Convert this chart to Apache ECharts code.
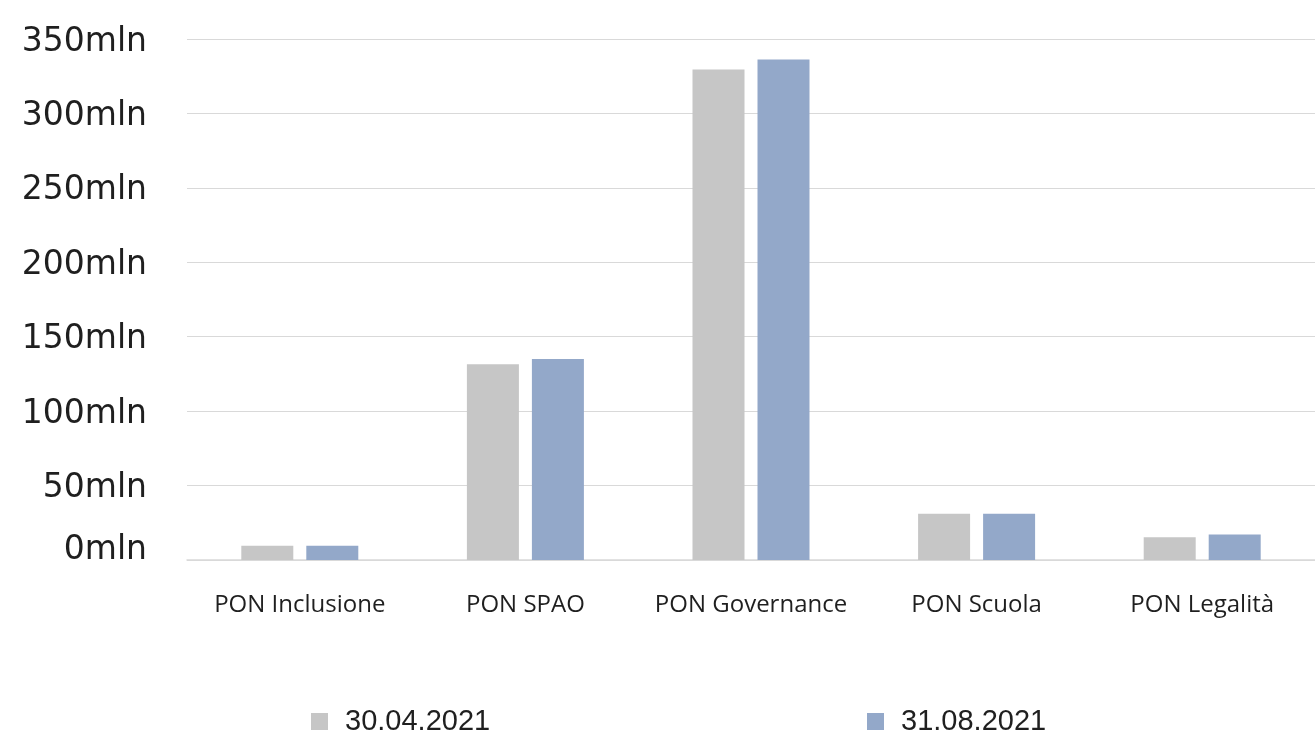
<!DOCTYPE html>
<html>
<head>
<meta charset="utf-8">
<script src="https://cdn.jsdelivr.net/npm/echarts@6/dist/echarts.min.js"></script>
<style>html,body{margin:0;padding:0;background:#fff}#c{width:1315px;height:732px}</style>
</head>
<body>
<div id="c"></div>
<script>
const categories = ['PON Inclusione', 'PON SPAO', 'PON Governance', 'PON Scuola', 'PON Legalità'];
const seriesNames = ['30.04.2021', '31.08.2021'];
const values2021Apr = [9.5, 131.5, 329.5, 31, 15.2];
const values2021Aug = [9.5, 135, 336.3, 31, 17.2];
const yTicks = { min: 0, max: 350, interval: 50, suffix: 'mln' };

const legendText = { fontFamily: 'Liberation Sans, Arial, sans-serif', fontSize: 29, color: '#1f1f1f', padding: [0, 0, 0, 12] };
const yFont = { fontFamily: 'DejaVu Sans, sans-serif', fontSize: 33, color: '#1f1f1f' };

const chart = echarts.init(document.getElementById('c'), null, { renderer: 'canvas' });
chart.setOption({
  animation: false,
  backgroundColor: '#ffffff',
  grid: { left: 187, right: 0, top: 39, bottom: 172, containLabel: false },
  legend: [
    { data: [seriesNames[0]], left: 306, top: 702, icon: 'rect', itemWidth: 17, itemHeight: 17, textStyle: legendText },
    { data: [seriesNames[1]], left: 862, top: 702, icon: 'rect', itemWidth: 17, itemHeight: 17, textStyle: legendText }
  ],
  xAxis: {
    type: 'category',
    data: categories,
    axisLine: { show: true, lineStyle: { color: '#d9d9d9', width: 1.5 } },
    axisTick: { show: false },
    axisLabel: { interval: 0, fontFamily: 'Open Sans, sans-serif', fontSize: 24, color: '#1f1f1f', margin: 33 }
  },
  yAxis: {
    type: 'value',
    min: yTicks.min, max: yTicks.max, interval: yTicks.interval,
    axisLine: { show: false },
    axisTick: { show: false },
    splitLine: { lineStyle: { color: '#d9d9d9', width: 1.2 } },
    axisLabel: {
      margin: 40,
      formatter: function (v) {
        return (v === 0 ? '{z|' : '{n|') + v + yTicks.suffix + '}';
      },
      rich: {
        n: Object.assign({ padding: [6, 0, 0, 0] }, yFont),
        z: Object.assign({ padding: [0, 0, 19, 0] }, yFont)
      }
    }
  },
  series: [
    { name: seriesNames[0], type: 'bar', data: values2021Apr, barWidth: 52, barGap: '25%', itemStyle: { color: '#c6c6c6' } },
    { name: seriesNames[1], type: 'bar', data: values2021Aug, barWidth: 52, barGap: '25%', itemStyle: { color: '#93a8c9' } }
  ]
});
</script>
</body>
</html>
